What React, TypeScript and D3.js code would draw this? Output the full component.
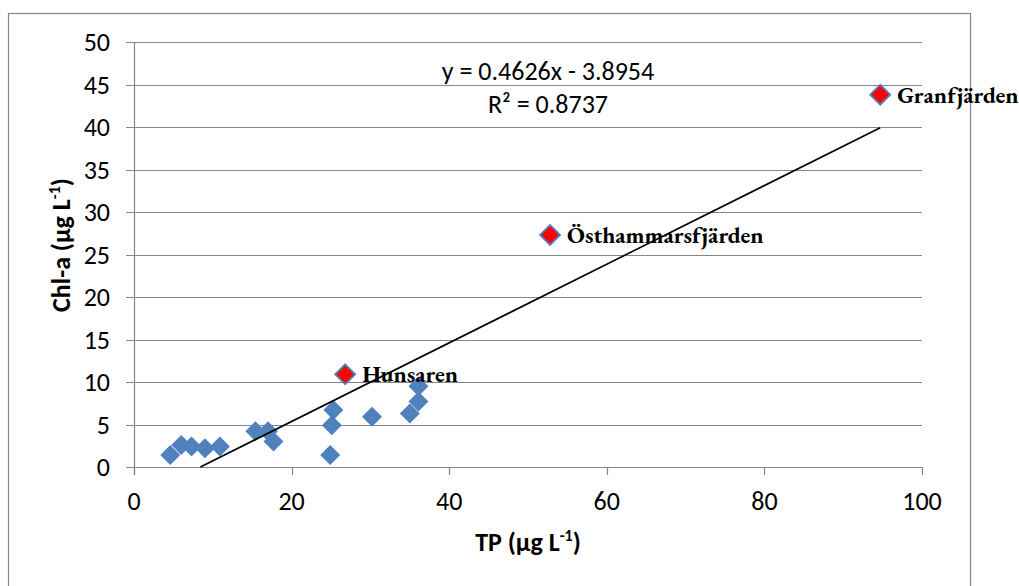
import React from "react";
import * as d3 from "d3";

const tpSites = [4.6, 6.0, 7.3, 9.0, 10.9, 15.4, 17.0, 17.7, 24.9, 25.1, 25.3, 30.2, 35.0, 36.1, 36.1];
const chlSites = [1.4, 2.6, 2.4, 2.2, 2.4, 4.2, 4.2, 3.0, 1.4, 4.9, 6.7, 5.9, 6.3, 7.7, 9.5];

// highlighted sites
const namedSites = ["Hunsaren", "Östhammarsfjärden", "Granfjärden"];
const tpNamed = [26.8, 52.8, 94.7];
const chlNamed = [10.9, 27.3, 43.8];

const xTicks = [0, 20, 40, 60, 80, 100];
const yTicks = [0, 5, 10, 15, 20, 25, 30, 35, 40, 45, 50];

const slope = 0.4626;
const intercept = -3.8954;
const r2 = 0.8737;

const W = 1019;
const H = 586;
const tickFont = "Carlito, Lato, 'Open Sans', sans-serif";
const labelFont = "'EB Garamond', 'Liberation Serif', 'DejaVu Serif', serif";
const grey = "#868686";
const blue = "#4F81BD";
const fs = 26;

function Diamond({ x, y, fill }: { x: number; y: number; fill: string }) {
  const r = 10;
  const d = `M${x},${y - r}L${x + r},${y}L${x},${y + r}L${x - r},${y}Z`;
  return fill === blue ? (
    <path d={d} fill={blue} />
  ) : (
    <path d={d} fill={fill} stroke={blue} strokeWidth={1.8} />
  );
}

export default function App() {
  const x = d3.scaleLinear().domain([0, 100]).range([134, 922]);
  const y = d3.scaleLinear().domain([0, 50]).range([467, 42]);

  const xStart = -intercept / slope; // where the trendline crosses y = 0
  const xEnd = d3.max(tpNamed.concat(tpSites)) as number;
  const trend = d3.line<number>()
    .x(d => x(d))
    .y(d => y(slope * d + intercept))([xStart, xEnd]);

  return (
    <svg width={W} height={H} style={{ position: "absolute", left: 0, top: 0 }}>
      <rect x={0} y={0} width={W} height={H} fill="white" />
      <rect x={8.5} y={13.5} width={962} height={600} fill="none" stroke={grey} strokeWidth={1.2} />

      {/* gridlines + y ticks */}
      {yTicks.map(t => (
        <g key={"y" + t}>
          {t > 0 && (
            <line x1={x(0) - 8} x2={x(100)} y1={Math.round(y(t)) + 0.5} y2={Math.round(y(t)) + 0.5}
              stroke={grey} strokeWidth={1.2} />
          )}
          <text x={110} y={y(t)} dy="0.35em" textAnchor="end" fontFamily={tickFont} fontSize={fs} fill="#000">
            {t}
          </text>
        </g>
      ))}
      {/* axes */}
      <line x1={x(0) - 8} x2={x(100)} y1={y(0) + 0.5} y2={y(0) + 0.5} stroke={grey} strokeWidth={1.2} />
      <line x1={x(0) + 0.5} x2={x(0) + 0.5} y1={y(50)} y2={y(0) + 8} stroke={grey} strokeWidth={1.2} />
      {xTicks.map(t => (
        <g key={"x" + t}>
          <line x1={Math.round(x(t)) + 0.5} x2={Math.round(x(t)) + 0.5} y1={y(0)} y2={y(0) + 8}
            stroke={grey} strokeWidth={1.2} />
          <text x={x(t)} y={510} textAnchor="middle" fontFamily={tickFont} fontSize={fs} fill="#000">
            {t}
          </text>
        </g>
      ))}

      {/* axis titles */}
      <text x={528} y={551} textAnchor="middle" fontFamily={tickFont} fontSize={fs} fontWeight="bold">
        TP (µg L<tspan dy={-10} fontSize={16}>-1</tspan><tspan dy={10}>)</tspan>
      </text>
      <text transform="translate(70,245) rotate(-90)" textAnchor="middle" fontFamily={tickFont}
        fontSize={fs} fontWeight="bold">
        Chl-a (µg L<tspan dy={-10} fontSize={16}>-1</tspan><tspan dy={10}>)</tspan>
      </text>

      {/* points */}
      {tpSites.map((t, i) => (
        <Diamond key={"p" + i} x={x(t)} y={y(chlSites[i])} fill={blue} />
      ))}

      {/* trendline */}
      <path d={trend || ""} fill="none" stroke="#000" strokeWidth={1.6} />

      {tpNamed.map((t, i) => (
        <g key={"n" + i}>
          <Diamond x={x(t)} y={y(chlNamed[i])} fill="#FF0000" />
          <text x={x(t) + 17} y={y(chlNamed[i]) + 8} fontFamily={labelFont} fontWeight="bold"
            fontSize={23.5} fill="#000">
            {namedSites[i]}
          </text>
        </g>
      ))}

      {/* regression equation */}
      <text x={548} y={80} textAnchor="middle" fontFamily={tickFont} fontSize={fs}>
        {`y = ${slope}x - ${Math.abs(intercept)}`}
      </text>
      <text x={548} y={113} textAnchor="middle" fontFamily={tickFont} fontSize={fs}>
        R² = {r2}
      </text>
    </svg>
  );
}
